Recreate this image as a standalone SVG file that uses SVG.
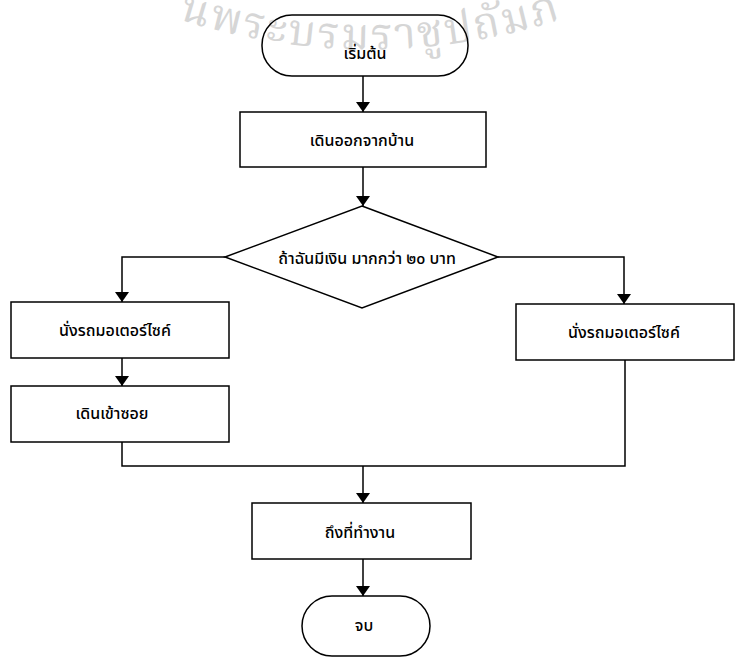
<svg xmlns="http://www.w3.org/2000/svg" width="736" height="658" viewBox="0 0 736 658">
<style>
.n{fill:none;stroke:#000;stroke-width:1.5}
.t{font-family:"Noto Sans Thai","Noto Sans","DejaVu Sans","Liberation Sans",sans-serif;font-size:16px;font-weight:500;fill:#000;text-anchor:middle}
.c{fill:none;stroke:#000;stroke-width:1.5}
.wm{font-family:"Noto Serif Thai","DejaVu Serif","Liberation Serif",serif;font-size:44px;fill:#d6d6d6;letter-spacing:2px}
</style>
<defs>
<marker id="ah" viewBox="0 0 10 14" refX="10" refY="7" markerWidth="10" markerHeight="14" markerUnits="userSpaceOnUse" orient="auto">
<path d="M0,0 L10,7 L0,14 Z" fill="#000"/>
</marker>
<path id="arc" d="M150,9 A620,620 0 0 0 590,9"/>
</defs>
<rect width="736" height="658" fill="#fff"/>
<text class="wm"><textPath href="#arc" startOffset="30">นพระบรมราชูปถัมภ์</textPath></text>
<g id="connectors">
<path class="c" d="M363,76 V112" marker-end="url(#ah)"/>
<path class="c" d="M363,167 V206" marker-end="url(#ah)"/>
<path class="c" d="M225,257 H122 V302" marker-end="url(#ah)"/>
<path class="c" d="M498,257 H624 V304" marker-end="url(#ah)"/>
<path class="c" d="M122,358 V386" marker-end="url(#ah)"/>
<path class="c" d="M122,442 V466 H625 V360"/>
<path class="c" d="M363,466 V503" marker-end="url(#ah)"/>
<path class="c" d="M363,559 V596" marker-end="url(#ah)"/>
</g>
<g id="start"><rect class="n" x="262" y="15" width="206" height="61" rx="30"/><text class="t" x="365" y="59">เริ่มต้น</text></g>
<g id="leave"><rect class="n" x="240" y="112" width="246" height="55"/><text class="t" x="362" y="146">เดินออกจากบ้าน</text></g>
<g id="decision"><polygon class="n" points="362,206 498,257 362,308 225,257"/><text class="t" x="367" y="264">ถ้าฉันมีเงิน มากกว่า ๒๐ บาท</text></g>
<g id="moto-left"><rect class="n" x="11" y="302" width="218" height="56"/><text class="t" x="115" y="336">นั่งรถมอเตอร์ไซค์</text></g>
<g id="walk"><rect class="n" x="11" y="386" width="218" height="56"/><text class="t" x="112" y="419">เดินเข้าซอย</text></g>
<g id="moto-right"><rect class="n" x="516" y="304" width="218" height="56"/><text class="t" x="624" y="338">นั่งรถมอเตอร์ไซค์</text></g>
<g id="arrive"><rect class="n" x="252" y="503" width="219" height="56"/><text class="t" x="360" y="538">ถึงที่ทำงาน</text></g>
<g id="end"><rect class="n" x="302" y="596" width="128" height="60" rx="30"/><text class="t" x="364" y="631">จบ</text></g>
</svg>
